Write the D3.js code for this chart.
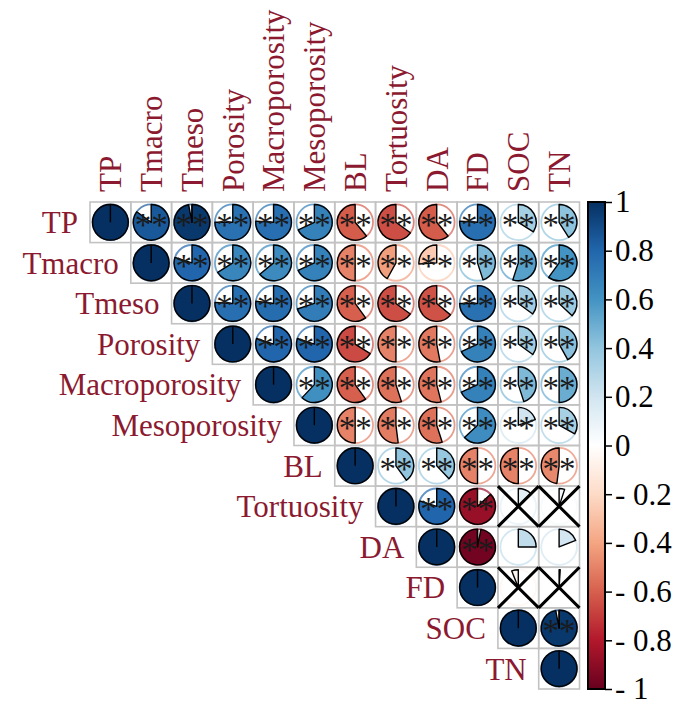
<!DOCTYPE html>
<html><head><meta charset="utf-8">
<script src="https://cdn.jsdelivr.net/npm/d3@7"></script>
<style>body{margin:0;background:#fff}svg{display:block}</style>
</head><body>
<svg id="chart" width="685" height="705"></svg>
<script>
const vars = ["TP","Tmacro","Tmeso","Porosity","Macroporosity","Mesoporosity","BL","Tortuosity","DA","FD","SOC","TN"];
// upper-triangle rows, starting at the diagonal
const corrTP        = [1, 0.85, 0.97, 0.75, 0.76, 0.68, -0.61, -0.65, -0.61, 0.76, 0.34, 0.41];
const corrTmacro    = [1, 0.80, 0.66, 0.64, 0.68, -0.50, -0.42, -0.26, 0.45, 0.55, 0.60];
const corrTmeso     = [1, 0.76, 0.77, 0.70, -0.60, -0.65, -0.64, 0.75, 0.35, 0.37];
const corrPorosity  = [1, 0.80, 0.80, -0.66, -0.50, -0.53, 0.68, 0.35, 0.42];
const corrMacro     = [1, 0.62, -0.60, -0.55, -0.54, 0.68, 0.45, 0.50];
const corrMeso      = [1, -0.50, -0.52, -0.55, 0.63, 0.20, 0.33];
const corrBL        = [1, 0.40, 0.38, -0.50, -0.50, -0.48];
const corrTort      = [1, 0.80, -0.87, 0.12, 0.05];
const corrDA        = [1, -0.97, 0.25, 0.19];
const corrFD        = [1, -0.06, 0.01];
const corrSOC       = [1, 0.97];
const corrTN        = [1];
// significance marks: "**" = significant, "x" = crossed out, "" = none
const sigTort = ["", "**", "**", "x", "x"];
const sigDA   = ["", "**", "", ""];
const sigFD   = ["", "x", "x"];
const tickValues = [1, 0.8, 0.6, 0.4, 0.2, 0, -0.2, -0.4, -0.6, -0.8, -1];
const palette = ["#67001F","#B2182B","#D6604D","#F4A582","#FDDBC7","#FFFFFF","#D1E5F0","#92C5DE","#4393C3","#2166AC","#053061"];

const corrRows = [corrTP, corrTmacro, corrTmeso, corrPorosity, corrMacro, corrMeso, corrBL, corrTort, corrDA, corrFD, corrSOC, corrTN];
const sigRows = corrRows.map((r, i) => r.map((v, k) => k === 0 ? "" : "**"));
sigRows[7] = sigTort; sigRows[8] = sigDA; sigRows[9] = sigFD;

const cells = [];
corrRows.forEach((row, i) => row.forEach((v, k) => {
  cells.push({row: vars[i], col: vars[i + k], r: v, sig: sigRows[i][k], diag: k === 0});
}));

const svg = d3.select("#chart");
const x = d3.scaleBand().domain(vars).range([90, 579.5]).padding(0);
const y = d3.scaleBand().domain(vars).range([202, 689]).padding(0);
const color = d3.scaleLinear().domain(d3.range(11).map(i => -1 + i * 0.2)).range(palette).interpolate(d3.interpolateRgb);
const labelColor = "#8B1A30";
const font = "'Liberation Serif','Times New Roman',serif";
const R = Math.min(x.bandwidth(), y.bandwidth()) * 0.44;

// grid cells
svg.append("g").selectAll("rect").data(cells).join("rect")
  .attr("x", d => x(d.col)).attr("y", d => y(d.row))
  .attr("width", x.bandwidth()).attr("height", y.bandwidth())
  .attr("fill", "none").attr("stroke", "#C2C2C2").attr("stroke-width", 1.6);

const arc = d3.arc().innerRadius(0).outerRadius(R);
const g = svg.append("g").selectAll("g").data(cells).join("g")
  .attr("transform", d => `translate(${x(d.col) + x.bandwidth()/2},${y(d.row) + y.bandwidth()/2})`);

g.append("circle").attr("r", R).attr("fill", "none")
  .attr("stroke", d => color(d.r)).attr("stroke-width", 1.8).attr("opacity", 0.7);
g.append("path")
  .attr("d", d => {
    const a = 2 * Math.PI * d.r;
    return d.r >= 0 ? arc({startAngle: 0, endAngle: a}) : arc({startAngle: a, endAngle: 0});
  })
  .attr("fill", d => color(d.r)).attr("stroke", "#000").attr("stroke-width", 1.4)
  .attr("stroke-linejoin", "round");
g.filter(d => Math.abs(d.r) > 0.95).append("line")
  .attr("x1", 0).attr("y1", 0).attr("x2", 0).attr("y2", -R)
  .attr("stroke", "#000").attr("stroke-width", 1.4);

g.filter(d => d.sig === "**").append("text")
  .attr("text-anchor", "middle").attr("y", 14)
  .attr("font-family", font).attr("font-size", 33).attr("fill", "#1a1a1a")
  .text("**");

// crosses
const cw = x.bandwidth(), ch = y.bandwidth();
g.filter(d => d.sig === "x").each(function() {
  const s = d3.select(this);
  s.append("line").attr("x1", -cw/2).attr("y1", -ch/2).attr("x2", cw/2).attr("y2", ch/2)
    .attr("stroke", "#000").attr("stroke-width", 3);
  s.append("line").attr("x1", cw/2).attr("y1", -ch/2).attr("x2", -cw/2).attr("y2", ch/2)
    .attr("stroke", "#000").attr("stroke-width", 3);
});

// row labels
svg.append("g").selectAll("text").data(vars).join("text")
  .attr("x", d => x(d) - 12).attr("y", d => y(d) + y.bandwidth()/2)
  .attr("dy", "0.35em").attr("text-anchor", "end")
  .attr("font-family", font).attr("font-size", 31).attr("fill", labelColor)
  .text(d => d);
// column labels
svg.append("g").selectAll("text").data(vars).join("text")
  .attr("transform", d => `translate(${x(d) + x.bandwidth()/2},192) rotate(-90)`)
  .attr("dy", "0.35em").attr("text-anchor", "start")
  .attr("font-family", font).attr("font-size", 31).attr("fill", labelColor)
  .text(d => d);

// colorbar
const cb = {x: 588, w: 17};
const cy = d3.scaleLinear().domain([-1, 1]).range([689, 202]);
const defs = svg.append("defs");
const grad = defs.append("linearGradient").attr("id", "cbgrad")
  .attr("x1", 0).attr("y1", 1).attr("x2", 0).attr("y2", 0);
palette.forEach((c, i) => grad.append("stop").attr("offset", i / 10).attr("stop-color", c));
svg.append("rect").attr("x", cb.x).attr("y", cy(1)).attr("width", cb.w).attr("height", cy(-1) - cy(1))
  .attr("fill", "url(#cbgrad)").attr("stroke", "#000").attr("stroke-width", 2);
const axis = d3.axisRight(cy).tickValues(tickValues).tickSize(7).tickPadding(3)
  .tickFormat(v => v < 0 ? "- " + d3.format("")(Math.abs(v)) : d3.format("")(v));
const ag = svg.append("g").attr("transform", `translate(${cb.x + cb.w},0)`).call(axis);
ag.select(".domain").remove();
ag.selectAll("line").attr("stroke", "#000").attr("stroke-width", 1.5);
ag.selectAll("text").attr("font-family", font).attr("font-size", 31).attr("fill", "#000");
</script>
</body></html>
